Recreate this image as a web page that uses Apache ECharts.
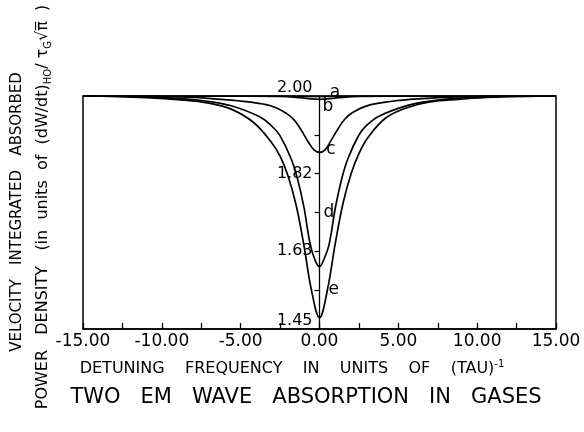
<!DOCTYPE html>
<html>
<head>
<meta charset="utf-8">
<script src="https://cdn.jsdelivr.net/npm/echarts@6/dist/echarts.min.js"></script>
<style>
  html, body { margin: 0; background: #fff; }
  #chart { width: 584px; height: 432px; }
</style>
</head>
<body>
<div id="chart"></div>
<script>
// axis ticks / labels
const xTickValues = [-15, -12.5, -10, -7.5, -5, -2.5, 0, 2.5, 5, 7.5, 10, 12.5, 15];
const xLabelValues = [-15, -10, -5, 0, 5, 10, 15];
const yTickValues = [1.45, 1.54167, 1.63333, 1.725, 1.81667, 1.90833, 2.00];
const yLabelValues = [1.45, 1.63333, 1.81667, 2.00];

// curves, [detuning, power density]
const curveA = [[-15, 2.0], [-3, 2.0], [-1, 1.9995], [0, 1.999], [1, 1.9995], [3, 2.0], [15, 2.0]];
const curveB = [[-15, 2.0], [-5, 1.9995], [-2.5, 1.999], [-1.2, 1.996], [-0.5, 1.993], [0, 1.992],
                [0.5, 1.993], [1.2, 1.996], [2.5, 1.999], [5, 1.9995], [15, 2.0]];
const curveC = [[-15, 2.0], [-8.8, 1.998], [-6.2, 1.992], [-4.5, 1.986], [-3.1, 1.977], [-2.1, 1.959],
                [-1.6, 1.943], [-1.2, 1.922], [-0.7, 1.891], [-0.35, 1.873], [0, 1.867], [0.35, 1.873],
                [0.7, 1.893], [1.2, 1.924], [1.6, 1.945], [2.1, 1.961], [3.1, 1.978], [4.5, 1.987],
                [6.2, 1.993], [8.8, 1.998], [15, 2.0]];
const curveD = [[-15, 2.0], [-11, 1.998], [-8.8, 1.994], [-7, 1.987], [-5.6, 1.977], [-3.8, 1.951],
                [-3.0, 1.928], [-2.5, 1.906], [-1.8, 1.852], [-1.4, 1.805], [-1.0, 1.74], [-0.6, 1.652],
                [-0.3, 1.614], [0, 1.597], [0.3, 1.616], [0.6, 1.648], [1.0, 1.735], [1.4, 1.803],
                [1.8, 1.852], [2.5, 1.908], [3.0, 1.931], [3.8, 1.953], [5.6, 1.978], [7, 1.988],
                [8.8, 1.995], [11, 1.998], [15, 2.0]];
const curveE = [[-15, 2.0], [-11, 1.996], [-8.8, 1.991], [-7, 1.983], [-5.6, 1.969], [-4.2, 1.938],
                [-3.1, 1.893], [-2.5, 1.858], [-2.0, 1.812], [-1.5, 1.745], [-1.0, 1.65], [-0.5, 1.54],
                [0, 1.477], [0.5, 1.542], [1.0, 1.652], [1.5, 1.748], [2.0, 1.816], [2.5, 1.864],
                [3.1, 1.903], [4.2, 1.948], [5.6, 1.973], [7, 1.986], [8.8, 1.992], [11, 1.997], [15, 2.0]];

const curveNames = ['a', 'b', 'c', 'd', 'e'];
const curves = [curveA, curveB, curveC, curveD, curveE];
// where the letters sit, in data units
const letterSpots = [[0.98, 2.009], [0.54, 1.974], [0.73, 1.873], [0.6, 1.724], [0.9, 1.544]];

const FONT = '"DejaVu Sans", "Liberation Sans", sans-serif';

const chart = echarts.init(document.getElementById('chart'));

const gridLeft = 83, gridRight = 28;
// y axis sits on detuning = 0, in the middle of the plot
const yAxisShift = (584 - gridLeft - gridRight) / 2;

const option = {
  animation: false,
  grid: {
    left: gridLeft, right: gridRight, top: 96, bottom: 103,
    show: true, borderColor: '#000', borderWidth: 1.5, backgroundColor: 'transparent'
  },
  xAxis: {
    type: 'value',
    min: -15, max: 15,
    axisLine: { onZero: false, lineStyle: { color: '#000', width: 1.5 } },
    axisTick: { inside: true, length: 6, customValues: xTickValues, lineStyle: { color: '#000', width: 1.3 } },
    axisLabel: {
      customValues: xLabelValues, margin: 4,
      color: '#000', fontFamily: FONT, fontSize: 17,
      formatter: v => v.toFixed(2)
    },
    splitLine: { show: false }
  },
  yAxis: {
    type: 'value',
    min: 1.45, max: 2.0,
    position: 'left',
    offset: -yAxisShift,
    axisLine: { onZero: false, lineStyle: { color: '#000', width: 1.3 } },
    axisTick: { length: 5, customValues: yTickValues, lineStyle: { color: '#000', width: 1.2 } },
    axisLabel: {
      customValues: yLabelValues, margin: 7,
      color: '#000', fontFamily: FONT, fontSize: 16,
      verticalAlignMinLabel: 'bottom', verticalAlignMaxLabel: 'bottom',
      formatter: v => v.toFixed(2)
    },
    splitLine: { show: false }
  },
  series: curves.map((c, i) => ({
    name: curveNames[i],
    type: 'line',
    data: c,
    smooth: 0.4,
    showSymbol: false,
    symbol: 'none',
    lineStyle: { color: '#000', width: 1.7 }
  }))
};

chart.setOption(option);

const titleGraphics = [
  {
    type: 'text', x: 292, y: 369,
    style: {
      text: 'DETUNING    FREQUENCY    IN    UNITS    OF    (TAU){sup|-1}',
      font: '16px ' + FONT, fill: '#000',
      textAlign: 'center', textVerticalAlign: 'middle',
      rich: { sup: { fontSize: 10, fontFamily: FONT, verticalAlign: 'top', lineHeight: 20 } }
    }
  },
  {
    type: 'text', x: 306, y: 398,
    style: {
      text: 'TWO   EM   WAVE   ABSORPTION   IN   GASES',
      font: '21px ' + FONT, fill: '#000',
      textAlign: 'center', textVerticalAlign: 'middle'
    }
  },
  {
    type: 'text', x: 17, y: 212, rotation: Math.PI / 2,
    style: {
      text: 'VELOCITY   INTEGRATED   ABSORBED',
      font: '15px ' + FONT, fill: '#000',
      textAlign: 'center', textVerticalAlign: 'middle'
    }
  },
  {
    type: 'text', x: 43, y: 207, rotation: Math.PI / 2,
    style: {
      text: 'POWER   DENSITY   (in  units  of  (dW/dt){sub|HO}/ τ{sub|G}√π̅  )',
      font: '16px ' + FONT, fill: '#000',
      textAlign: 'center', textVerticalAlign: 'middle',
      rich: { sub: { fontSize: 10, fontFamily: FONT, verticalAlign: 'bottom', lineHeight: 20 } }
    }
  }
];

const letterGraphics = letterSpots.map((p, i) => {
  const px = chart.convertToPixel({ gridIndex: 0 }, p);
  return {
    type: 'text', x: px[0], y: px[1],
    style: {
      text: curveNames[i], font: '17px ' + FONT, fill: '#000',
      textAlign: 'center', textVerticalAlign: 'middle'
    }
  };
});

chart.setOption({ graphic: titleGraphics.concat(letterGraphics) });
</script>
</body>
</html>
